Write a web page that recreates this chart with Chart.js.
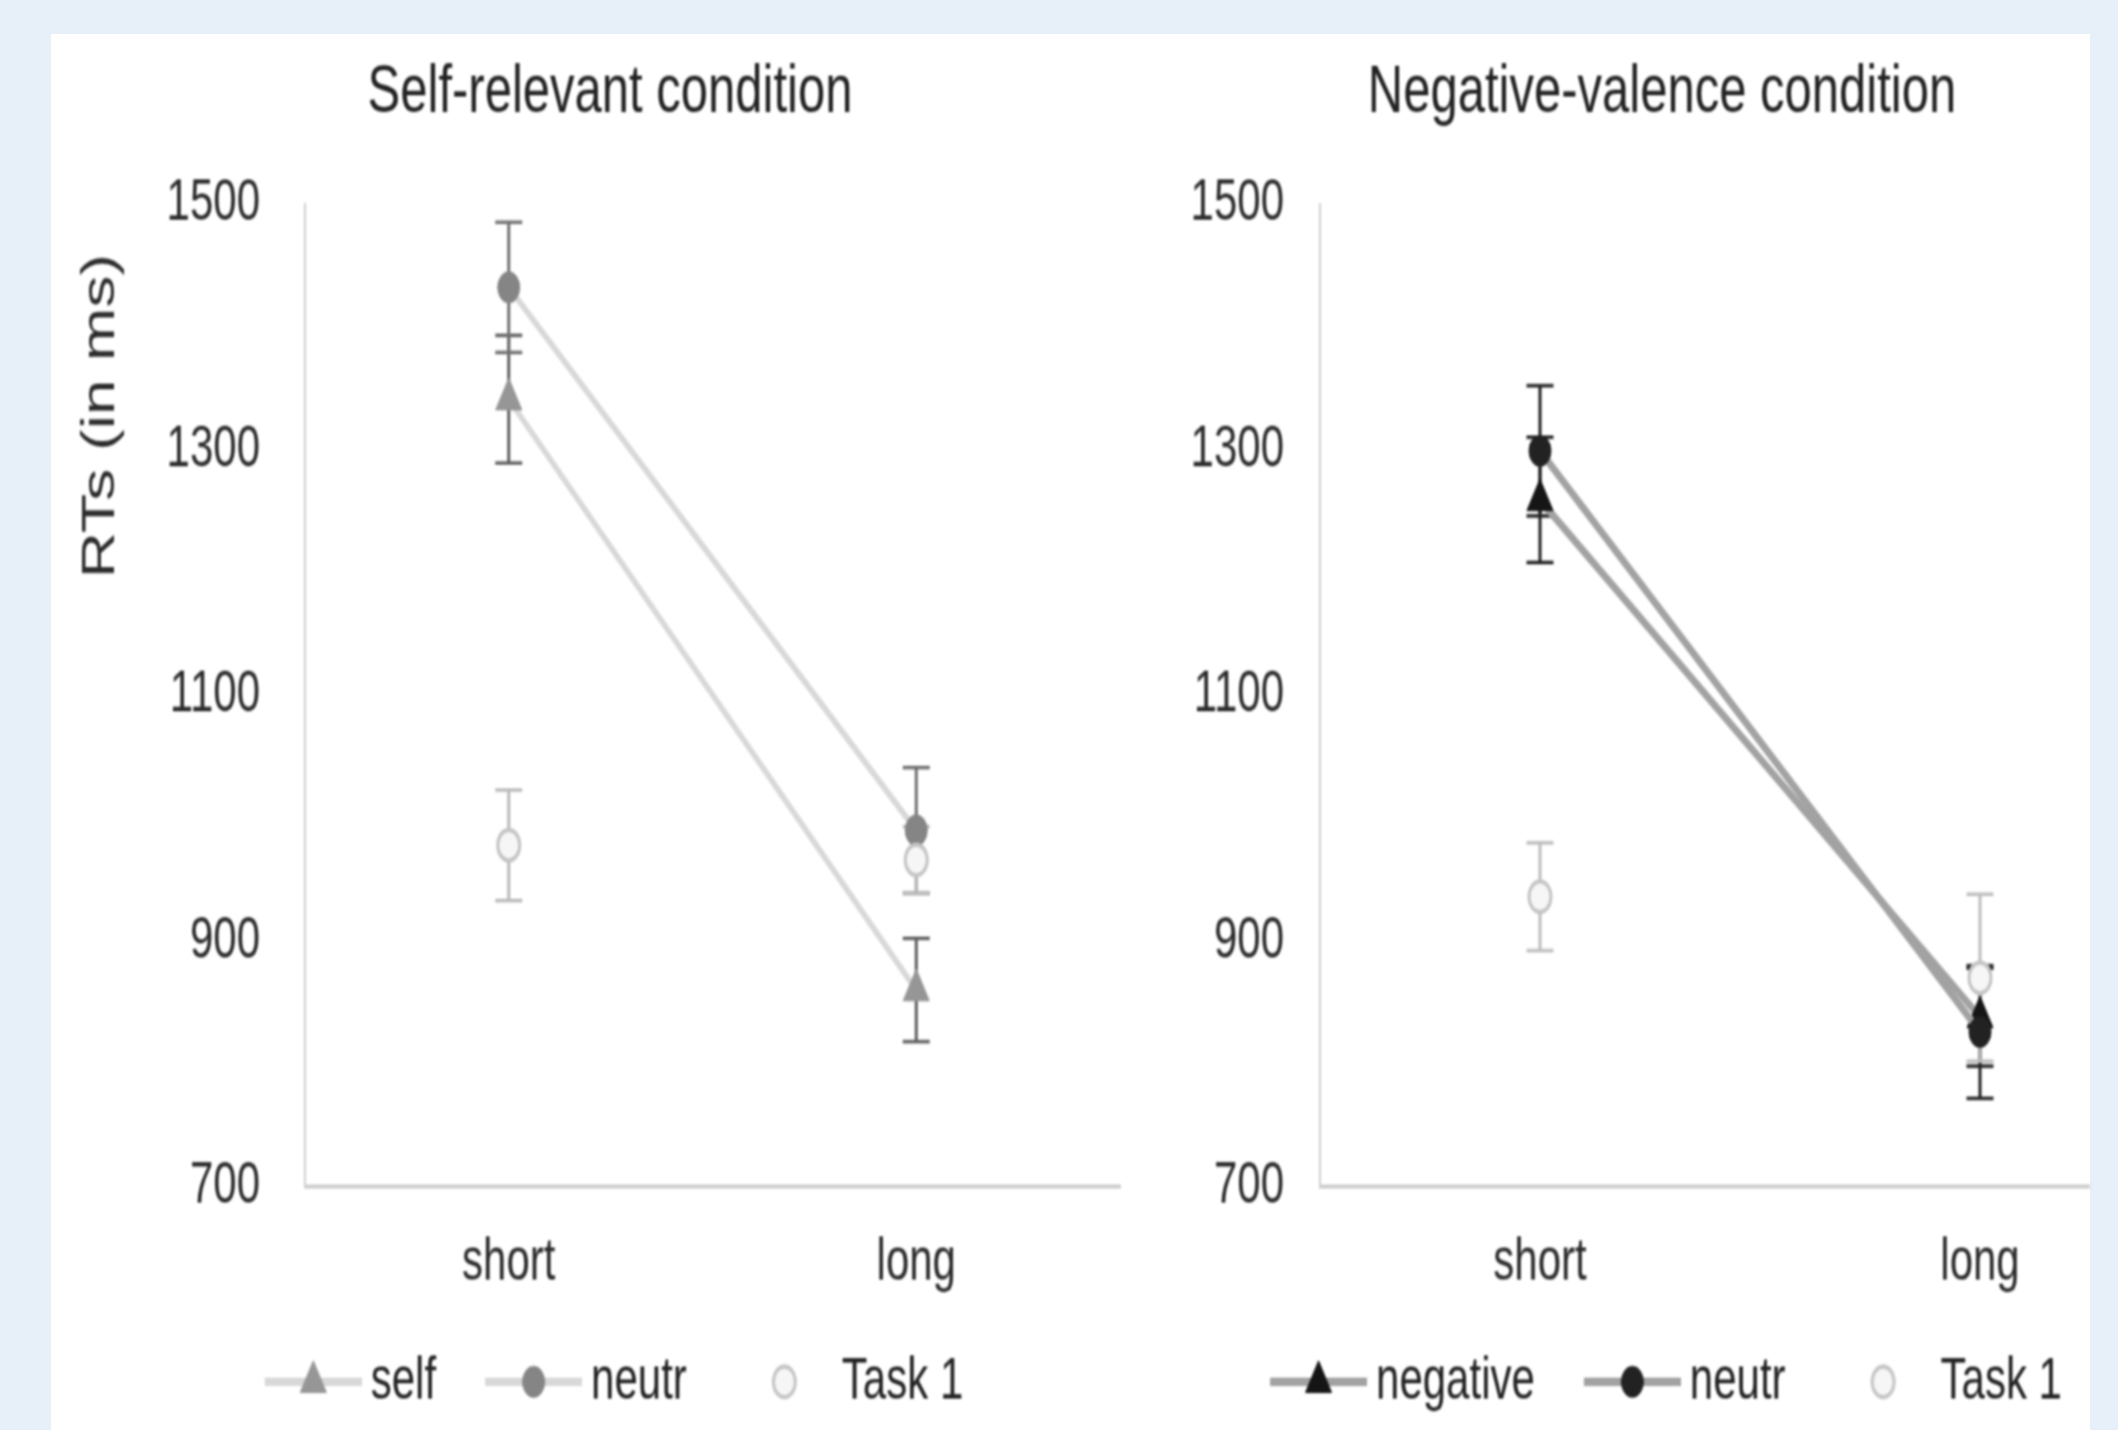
<!DOCTYPE html>
<html>
<head>
<meta charset="utf-8">
<title>RTs by condition</title>
<script src="https://cdn.jsdelivr.net/npm/chart.js@4.4.1/dist/chart.umd.min.js"></script>
<style>
  html, body { margin: 0; padding: 0; }
  body { width: 2118px; height: 1430px; background: #e7eff9; position: relative; overflow: hidden; }
  #panel { position: absolute; left: 51px; top: 34px; width: 2039px; height: 1396px; background: #ffffff; }
  /* the source picture is stretched vertically, so draw flat and stretch */
  #stage { position: absolute; left: 0; top: 0; width: 2090px; height: 1021px; transform: scaleY(1.4); transform-origin: 0 0; overflow: hidden; filter: blur(0.9px); }
  canvas { position: absolute; top: 0; }
  #left { left: 0; }
  #right { left: 1108px; }
</style>
</head>
<body>
<div id="panel"></div>
<div id="stage">
  <canvas id="left" width="1220" height="1021"></canvas>
  <canvas id="right" width="1108" height="1021"></canvas>
</div>
<script>
const categories = ['short', 'long'];
const yTicks = [700, 900, 1100, 1300, 1500];

// Self-relevant condition
const selfRT = [1341, 860];
const selfSE = [52, 42];
const selfNeutrRT = [1432, 990];
const selfNeutrSE = [53, 51];
const selfTaskRT = [978, 966];
const selfTaskSE = [45, 27];

// Negative-valence condition
const negRT = [1259, 838];
const negSE = [51, 40];
const negNeutrRT = [1299, 826];
const negNeutrSE = [53, 54];
const negTaskRT = [936, 870];
const negTaskSE = [44, 68];

Chart.defaults.font.family = '"Liberation Sans", Arial, sans-serif';

function drawMarker(ctx, m, x, y) {
  ctx.fillStyle = m.fill;
  ctx.strokeStyle = m.stroke;
  ctx.lineWidth = m.borderWidth;
  ctx.beginPath();
  if (m.shape === 'triangle') {
    const r = m.radius;
    ctx.moveTo(x, y - r);
    ctx.lineTo(x + r * 0.866, y + r * 0.5);
    ctx.lineTo(x - r * 0.866, y + r * 0.5);
    ctx.closePath();
  } else {
    ctx.arc(x, y, m.radius, 0, Math.PI * 2);
  }
  ctx.fill();
  ctx.stroke();
}

// legend sample: line with the marker in the middle
function legendIcon(m) {
  const c = document.createElement('canvas');
  c.width = 117;
  c.height = 40;
  const ctx = c.getContext('2d');
  if (m.line) {
    ctx.strokeStyle = m.line;
    ctx.lineWidth = 6;
    ctx.beginPath();
    ctx.moveTo(20, 20);
    ctx.lineTo(117, 20);
    ctx.stroke();
  }
  drawMarker(ctx, m, 68.5, 20);
  return c;
}

function series(label, data, m, order) {
  return {
    label: label,
    data: data,
    borderColor: m.line || 'transparent',
    borderWidth: m.lineWidth || 0,
    showLine: !!m.line,
    tension: 0,
    pointStyle: m.shape,
    pointRadius: m.radius,
    pointHoverRadius: m.radius,
    pointBackgroundColor: m.fill,
    pointBorderColor: m.stroke,
    pointBorderWidth: m.borderWidth,
    order: order
  };
}

const errorBarsPlugin = {
  id: 'errorBars',
  beforeDatasetsDraw(chart, args, opts) {
    const ctx = chart.ctx;
    const yScale = chart.scales.y;
    chart.data.datasets.forEach((ds, i) => {
      const meta = chart.getDatasetMeta(i);
      const se = opts.errors[i];
      ctx.save();
      ctx.strokeStyle = opts.colors[i];
      meta.data.forEach((pt, j) => {
        const top = yScale.getPixelForValue(ds.data[j] + se[j]);
        const bot = yScale.getPixelForValue(ds.data[j] - se[j]);
        ctx.lineWidth = 3;
        ctx.beginPath();
        ctx.moveTo(pt.x, top);
        ctx.lineTo(pt.x, bot);
        ctx.stroke();
        ctx.lineWidth = 2.5;
        ctx.beginPath();
        ctx.moveTo(pt.x - 13.5, top);
        ctx.lineTo(pt.x + 13.5, top);
        ctx.moveTo(pt.x - 13.5, bot);
        ctx.lineTo(pt.x + 13.5, bot);
        ctx.stroke();
      });
      ctx.restore();
    });
  }
};

// rotated y title, placed in the upper part of the axis like the source
const sideTitlePlugin = {
  id: 'sideTitle',
  afterDraw(chart, args, opts) {
    if (!opts.text) return;
    const area = chart.chartArea;
    const ctx = chart.ctx;
    ctx.save();
    ctx.translate(opts.x, area.top + opts.frac * (area.bottom - area.top));
    ctx.rotate(-Math.PI / 2);
    ctx.font = '46px "Liberation Sans", Arial, sans-serif';
    ctx.fillStyle = '#2b2b2b';
    ctx.textAlign = 'center';
    ctx.textBaseline = 'middle';
    ctx.fillText(opts.text, 0, 0);
    ctx.restore();
  }
};

function makeChart(id, cfg) {
  const icons = cfg.markers.map(legendIcon);
  return new Chart(document.getElementById(id), {
    type: 'line',
    data: {
      labels: categories,
      datasets: cfg.series.map((s, i) => series(s, cfg.values[i], cfg.markers[i], cfg.order[i]))
    },
    options: {
      responsive: false,
      animation: false,
      devicePixelRatio: 1,
      layout: { padding: { top: 0, bottom: 3, left: cfg.side, right: cfg.side } },
      scales: {
        x: {
          offset: true,
          grid: { display: false },
          border: { display: true, color: '#cfcfcf', width: 3 },
          ticks: { padding: 22, color: '#2b2b2b', font: { size: 42 } },
          afterFit: (s) => { s.height = 77.4; }
        },
        y: {
          min: yTicks[0],
          max: yTicks[yTicks.length - 1],
          grid: { display: false },
          border: { display: true, color: '#cfcfcf', width: 2 },
          ticks: { padding: cfg.tickPad, color: '#2b2b2b', font: { size: 42 }, callback: (v) => String(v) },
          afterBuildTicks: (s) => { s.ticks = yTicks.map((v) => ({ value: v })); },
          afterFit: (s) => { s.width = cfg.axisWidth; }
        }
      },
      plugins: {
        title: {
          display: true,
          text: cfg.title,
          color: '#222222',
          font: { size: 49, weight: 'normal' },
          padding: { top: 37, bottom: 49.8 }
        },
        legend: {
          position: 'bottom',
          labels: {
            usePointStyle: true,
            pointStyleWidth: 93,
            padding: 41,
            color: '#222222',
            font: { size: 42 },
            sort: (a, b) => a.datasetIndex - b.datasetIndex,
            generateLabels: (chart) => {
              const items = Chart.defaults.plugins.legend.labels.generateLabels(chart);
              items.forEach((it) => { it.pointStyle = icons[it.datasetIndex]; });
              return items;
            }
          }
        },
        tooltip: { enabled: false },
        errorBars: { errors: cfg.errors, colors: cfg.errColors },
        sideTitle: cfg.sideTitle
      }
    },
    plugins: [errorBarsPlugin, sideTitlePlugin]
  });
}

makeChart('left', {
  title: 'Self-relevant condition',
  series: ['self', 'neutr', 'Task 1'],
  values: [selfRT, selfNeutrRT, selfTaskRT],
  errors: [selfSE, selfNeutrSE, selfTaskSE],
  errColors: ['#5e5e5e', '#707070', '#b9b9b9'],
  order: [0, -1, -2],
  markers: [
    { shape: 'triangle', radius: 15, fill: '#969696', stroke: '#969696', borderWidth: 1, line: '#d8d8d8', lineWidth: 5 },
    { shape: 'circle', radius: 11, fill: '#858585', stroke: '#858585', borderWidth: 1, line: '#d8d8d8', lineWidth: 5 },
    { shape: 'circle', radius: 11, fill: '#f6f6f6', stroke: '#c4c4c4', borderWidth: 3 }
  ],
  side: 100,
  axisWidth: 205,
  tickPad: 37,
  sideTitle: { text: 'RTs (in ms)', x: 101, frac: 0.216 }
});

makeChart('right', {
  title: 'Negative-valence condition',
  series: ['negative', 'neutr', 'Task 1'],
  values: [negRT, negNeutrRT, negTaskRT],
  errors: [negSE, negNeutrSE, negTaskSE],
  errColors: ['#222222', '#222222', '#bdbdbd'],
  order: [0, -1, -2],
  markers: [
    { shape: 'triangle', radius: 15, fill: '#151515', stroke: '#151515', borderWidth: 1, line: '#a2a2a2', lineWidth: 6 },
    { shape: 'circle', radius: 11, fill: '#222222', stroke: '#222222', borderWidth: 1, line: '#a2a2a2', lineWidth: 6 },
    { shape: 'circle', radius: 11, fill: '#f6f6f6', stroke: '#c4c4c4', borderWidth: 3 }
  ],
  side: 12,
  axisWidth: 200,
  tickPad: 28,
  sideTitle: {}
});
</script>
</body>
</html>
